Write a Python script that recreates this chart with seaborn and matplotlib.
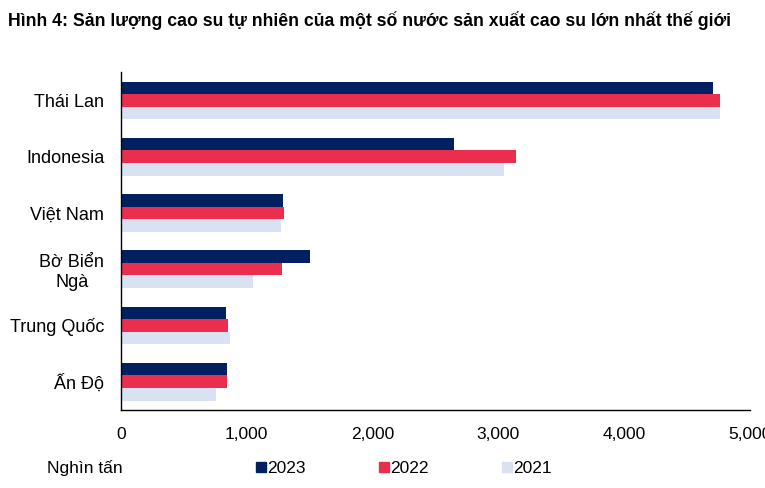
import numpy as np
import pandas as pd
import matplotlib
matplotlib.use('Agg')
import matplotlib.pyplot as plt
from matplotlib.lines import Line2D
from matplotlib.ticker import FuncFormatter, FixedLocator
import seaborn as sns

# --- data (nghìn tấn) ---
countries = ['Thái Lan', 'Indonesia', 'Việt Nam', 'Bờ Biển\nNgà', 'Trung Quốc', 'Ấn Độ']
years = ['2023', '2022', '2021']
val_2023 = [4710, 2650, 1290, 1500, 835, 840]
val_2022 = [4760, 3140, 1295, 1285, 855, 845]
val_2021 = [4765, 3050, 1275, 1050, 870, 760]
colors = ['#002060', '#EA2E4D', '#D9E2F3']

df = pd.DataFrame({
    'country': countries * 3,
    'year': ['2023'] * 6 + ['2022'] * 6 + ['2021'] * 6,
    'value': val_2023 + val_2022 + val_2021,
})

sns.set_style('white')
plt.rcParams['font.family'] = ['Liberation Sans', 'DejaVu Sans']
plt.rcParams['text.color'] = 'black'
plt.rcParams['xtick.color'] = 'black'
plt.rcParams['ytick.color'] = 'black'

fig = plt.figure(figsize=(7.65, 4.88), dpi=100)
ax = fig.add_axes([0.158, 0.160, 0.822, 0.692])

sns.barplot(data=df, y='country', x='value', hue='year', hue_order=years,
            order=countries, palette=colors, orient='h', width=0.67,
            saturation=1, linewidth=0, ax=ax, legend=False)

ax.set_xlim(0, 5000)
ax.set_ylim(5.5, -0.5)
ax.set_xlabel('')
ax.set_ylabel('')

ax.set_xticks(np.arange(0, 5001, 1000))
ax.xaxis.set_major_formatter(FuncFormatter(lambda v, p: f'{int(v):,}'))
ax.tick_params(axis='x', direction='out', length=5, width=1, color='black',
               labelcolor='black', labelsize=12.5, pad=7)

# category labels at centres, tick marks at the boundaries
ax.set_yticks(range(len(countries)))
ax.set_yticklabels(countries, ha='right', multialignment='center')
ax.tick_params(axis='y', which='major', length=0, labelsize=13, pad=12,
               labelcolor='black')
ax.yaxis.set_minor_locator(FixedLocator(np.arange(-0.5, 6.0, 1.0)))
ax.tick_params(axis='y', which='minor', direction='out', length=5, width=1,
               color='black')

for s in ['top', 'right']:
    ax.spines[s].set_visible(False)
for s in ['left', 'bottom']:
    ax.spines[s].set_color('black')
    ax.spines[s].set_linewidth(1)

fig.text(0.010, 0.958, 'Hình 4: Sản lượng cao su tự nhiên của một số nước sản xuất cao su lớn nhất thế giới',
         fontsize=12.7, fontweight='bold', ha='left', va='center', color='black')

fig.text(0.061, 0.040, 'Nghìn tấn', fontsize=12.5, ha='left', va='center', color='black')

handles = [Line2D([0], [0], marker='s', linestyle='', markersize=6.5,
                  markerfacecolor=c, markeredgecolor=c) for c in colors]
fig.legend(handles, years, loc='center left', bbox_to_anchor=(0.326, 0.040),
           ncol=3, frameon=False, fontsize=12.5, handlelength=0.55,
           handletextpad=0.1, columnspacing=4.2, borderaxespad=0,
           labelcolor='black')

fig.savefig('out.png', dpi=100)
